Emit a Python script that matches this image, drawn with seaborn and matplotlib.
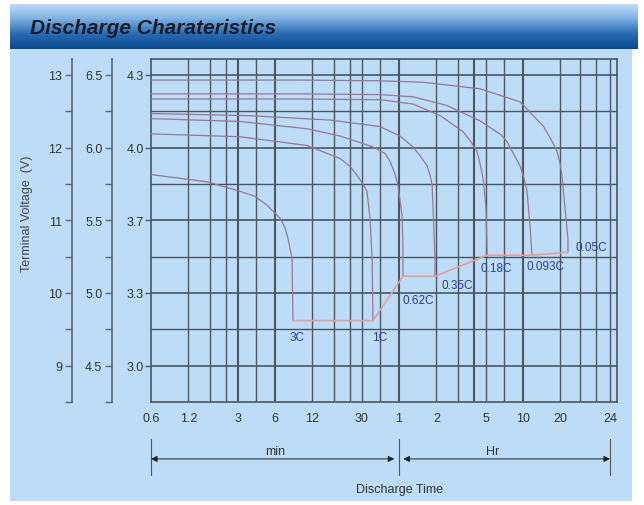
import numpy as np
import pandas as pd
import matplotlib
matplotlib.use('Agg')
import matplotlib.pyplot as plt
import seaborn as sns
from matplotlib.colors import LinearSegmentedColormap
from matplotlib.patches import Rectangle

# Discharge curves: time in minutes, voltage of the 12 V block
RATES = ['3C', '1C', '0.62C', '0.35C', '0.18C', '0.093C', '0.05C']

T_3C = [0.6, 1.7, 3.13, 4.14, 5.17, 6.58, 7.22, 7.64, 8.23, 8.38]
V_3C = [11.63, 11.53, 11.40, 11.33, 11.21, 11.03, 10.90, 10.75, 10.48, 9.62]

T_1C = [0.6, 3.13, 10.87, 20.1, 24.2, 27.5, 30.2, 33.1, 35.0, 36.4, 37.0]
V_1C = [12.19, 12.15, 12.03, 11.85, 11.74, 11.62, 11.52, 11.40, 11.03, 10.48, 9.62]

T_062C = [0.6, 3.13, 10.87, 20.1, 37.0, 46.3, 50.8, 55.7, 58.9, 63.4, 64.6, 64.6]
V_062C = [12.40, 12.36, 12.26, 12.16, 12.01, 11.92, 11.81, 11.64, 11.48, 11.07, 10.66, 10.23]

T_035C = [0.6, 3.77, 16.7, 42.2, 61.1, 77.8, 88.6, 101, 107, 111, 113, 117, 117]
V_035C = [12.47, 12.44, 12.38, 12.29, 12.16, 12.01, 11.89, 11.75, 11.62, 11.48, 11.16, 10.48,
          10.23]

T_018C = [0.6, 9.55, 42.2, 77.8, 129, 197, 224, 255, 270, 286, 302, 308]
V_018C = [12.67, 12.67, 12.66, 12.60, 12.44, 12.22, 12.10, 11.95, 11.78, 11.58, 11.16, 10.52]

T_0093C = [0.6, 9.55, 42.2, 77.8, 146, 270, 403, 446, 568, 611, 646, 683, 709]
V_0093C = [12.74, 12.74, 12.73, 12.70, 12.58, 12.37, 12.17, 12.08, 11.75, 11.58, 11.40, 10.93,
           10.52]

T_005C = [0.6, 9.55, 42.2, 93.7, 270, 568, 870, 991, 1128, 1193, 1207, 1221, 1234, 1234]
V_005C = [12.93, 12.93, 12.92, 12.90, 12.81, 12.63, 12.30, 12.14, 11.95, 11.78, 11.62, 11.16,
          10.75, 10.56]

TIMES = [T_3C, T_1C, T_062C, T_035C, T_018C, T_0093C, T_005C]
VOLTS = [V_3C, V_1C, V_062C, V_035C, V_018C, V_0093C, V_005C]

# x axis ticks (minutes) and their labels
X_TICKS = [0.6, 1.2, 3, 6, 12, 30, 60, 120, 300, 600, 1200, 1440]
X_LABELS = ['0.6', '1.2', '3', '6', '12', '30', '1', '2', '5', '10', '20', '24']
X_GRID = [1.2, 1.8, 2.4, 3, 4.2, 6, 12, 18, 24, 30, 42, 60,
          120, 180, 240, 300, 420, 600, 1200, 1290, 1370, 1440]
X_GRID_BOLD = [3, 6, 60, 240, 600]

# y axes: 12 V block, 6 V block and cell labels
V12_TICKS = [9, 10, 11, 12, 13]
V12_MINOR = [8.5, 9.5, 10.5, 11.5, 12.5]
V6_TICKS = [4.5, 5.0, 5.5, 6.0, 6.5]
V6_MINOR = [4.25, 4.75, 5.25, 5.75, 6.25]
CELL_LABELS = ['3.0', '3.3', '3.7', '4.0', '4.3']
Y_GRID = [9, 9.5, 10, 10.5, 11, 11.5, 12, 12.5, 13]

# label offsets (points) from each curve end
LABEL_OFFSETS = [(3, -12), (5, -12), (11, -17), (16, -6), (6.5, -9), (10, -8), (17, 4)]

BG = '#bddcf7'
GRID_COLOR = '#4b5661'
CURVE_COLOR = '#9a7596'
CUT_COLOR = '#e3a09c'
LABEL_COLOR = '#2e3c92'
TEXT_COLOR = '#333333'

# paper scale: log time, with the last 20 h -> 24 h step drawn wider
LA, LB, STRETCH = np.log10(1200), np.log10(1440), 5.06


def fwd(x):
    lx = np.log10(np.maximum(x, 1e-9))
    return np.where(lx <= LA, lx,
                    np.where(lx <= LB, LA + (lx - LA) * STRETCH,
                             LA + (LB - LA) * STRETCH + (lx - LB)))


def inv(u):
    u = np.asarray(u, dtype=float)
    ub = LA + (LB - LA) * STRETCH
    lx = np.where(u <= LA, u,
                  np.where(u <= ub, LA + (u - LA) / STRETCH, LB + (u - ub)))
    return 10 ** lx


sns.set_style('ticks')
plt.rcParams['font.family'] = ['Liberation Sans', 'DejaVu Sans']

W, H = 644, 506
fig = plt.figure(figsize=(W / 100, H / 100), dpi=100, facecolor='white')

# light blue body and gradient header
fig.patches.append(Rectangle((10 / W, 4 / H), 622 / W, 452 / H, transform=fig.transFigure,
                             facecolor=BG, edgecolor='none', zorder=-2))
hax = fig.add_axes([10 / W, 1 - 50 / H, 628 / W, 45 / H])
head_cmap = LinearSegmentedColormap.from_list('head', ['#c2def7', '#7fb1e2', '#2a6cb3', '#0a4890'])
hax.imshow(np.linspace(0, 1, 100).reshape(-1, 1), aspect='auto', cmap=head_cmap)
hax.axis('off')
fig.text(30 / W, 1 - 28 / H, 'Discharge Charateristics', fontsize=15, fontweight='bold',
         fontstyle='italic', color='#1b1e2a', va='center', ha='left')

ax = fig.add_axes([151 / W, (H - 403) / H, 466 / W, 343 / H])
ax.set_facecolor(BG)
ax.set_xscale('function', functions=(fwd, inv))
ax.set_xlim(0.6, 1639)
ax.set_ylim(8.5, 13.22)

for gx in X_GRID:
    ax.axvline(gx, color=GRID_COLOR, lw=1.5 if gx in X_GRID_BOLD else 1.0, zorder=1)
for gy in Y_GRID:
    ax.axhline(gy, color=GRID_COLOR, lw=1.2 if gy % 1 == 0 else 1.0, zorder=1)

rows = []
for rate, ts, vs in zip(RATES, TIMES, VOLTS):
    for t, v in zip(ts, vs):
        rows.append({'rate': rate, 'minutes': t, 'volts': v})
df = pd.DataFrame(rows)
sns.lineplot(data=df, x='minutes', y='volts', units='rate', estimator=None, sort=False,
             color=CURVE_COLOR, lw=0.9, ax=ax, zorder=3)

# final voltage line through the curve ends
end_t = [ts[-1] for ts in TIMES]
end_v = [vs[-1] for vs in VOLTS]
ax.plot(end_t, end_v, color=CUT_COLOR, lw=1.2, zorder=3)

for rate, ts, vs, off in zip(RATES, TIMES, VOLTS, LABEL_OFFSETS):
    ax.annotate(rate, xy=(ts[-1], vs[-1]), xytext=off, textcoords='offset points',
                ha='center', va='center', fontsize=8.5, color=LABEL_COLOR, zorder=4)

ax.set_xticks(X_TICKS, labels=X_LABELS)
ax.set_yticks(V12_TICKS, labels=CELL_LABELS)
ax.minorticks_off()
ax.tick_params(axis='x', length=0, pad=7, labelsize=9, labelcolor=TEXT_COLOR)
ax.tick_params(axis='y', length=4, width=1, color=GRID_COLOR, pad=1, labelsize=9,
               labelcolor=TEXT_COLOR)
ax.set_xlabel('')
ax.set_ylabel('')
for sp in ax.spines.values():
    sp.set_color(GRID_COLOR)
    sp.set_linewidth(1.2)

sec12 = ax.secondary_yaxis(-79 / 466, functions=(lambda v: v, lambda v: v))
sec12.set_yticks(V12_TICKS)
sec12.set_yticks(V12_MINOR, minor=True)
sec6 = ax.secondary_yaxis(-39 / 466, functions=(lambda v: v / 2, lambda v: v * 2))
sec6.set_yticks(V6_TICKS, labels=[f'{v:.1f}' for v in V6_TICKS])
sec6.set_yticks(V6_MINOR, minor=True)
for sec in (sec12, sec6):
    sec.spines['left'].set_color('#5a6570')
    sec.spines['left'].set_linewidth(1.2)
    sec.tick_params(axis='y', which='major', length=5, width=1, color='#5a6570', pad=2,
                    labelsize=9, labelcolor=TEXT_COLOR)
    sec.tick_params(axis='y', which='minor', length=5, width=1, color='#5a6570')

fig.text(27 / W, 1 - 214 / H, 'Terminal Voltage  (V)', rotation=90, fontsize=9,
         color='#444444', ha='center', va='center')

# min / Hr dimension arrows under the time axis
xt = ax.get_xaxis_transform()
for bx in (0.6, 60, 1440):
    ax.plot([bx, bx], [-0.108, -0.213], transform=xt, color='#555555', lw=0.8, clip_on=False)
arrow = dict(arrowstyle='<|-|>', color='#222222', lw=0.7, mutation_scale=9, shrinkA=0, shrinkB=0)
ax.annotate('', xy=(0.6, -0.166), xytext=(55, -0.166), xycoords=xt, textcoords=xt,
            arrowprops=arrow)
ax.annotate('', xy=(65, -0.166), xytext=(1440, -0.166), xycoords=xt, textcoords=xt,
            arrowprops=arrow)
ax.text(6, -0.143, 'min', transform=xt, ha='center', va='center', fontsize=9, color=TEXT_COLOR)
ax.text(340, -0.143, 'Hr', transform=xt, ha='center', va='center', fontsize=9, color=TEXT_COLOR)
ax.text(60, -0.254, 'Discharge Time', transform=xt, ha='center', va='center', fontsize=9,
        color=TEXT_COLOR)

fig.savefig('out.png', dpi=100, facecolor='white')
